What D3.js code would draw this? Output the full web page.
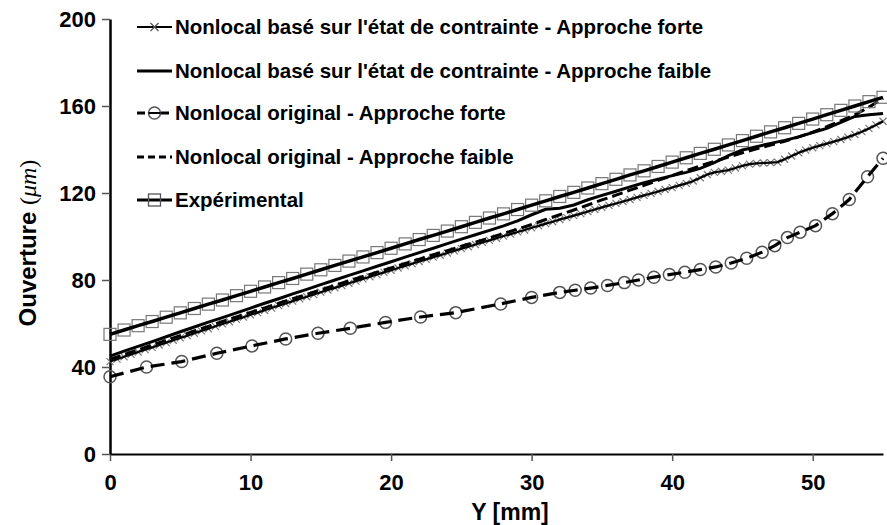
<!DOCTYPE html>
<html>
<head>
<meta charset="utf-8">
<script src="https://cdn.jsdelivr.net/npm/d3@7"></script>
<style>
  html, body { margin: 0; padding: 0; background: #fff; }
  svg { display: block; }
</style>
</head>
<body>
<svg id="chart" width="887" height="525"></svg>
<script>
// Crack opening along the ligament: experiment vs. nonlocal models
const xTicks = [0, 10, 20, 30, 40, 50];
const yTicks = [0, 40, 80, 120, 160, 200];

// Experimental measurements, one per millimetre (0..55 mm)
const expY = [
  55.0, 57.0, 59.0, 60.9, 62.9, 64.9, 66.9, 68.9, 70.8, 72.8,
  74.8, 76.8, 78.8, 80.7, 82.7, 84.7, 86.7, 88.7, 90.6, 92.6,
  94.6, 96.6, 98.6, 100.5, 102.5, 104.5, 106.5, 108.5, 110.4, 112.4,
  114.4, 116.4, 118.4, 120.3, 122.3, 124.3, 126.3, 128.3, 130.2, 132.2,
  134.2, 136.2, 138.2, 140.1, 142.1, 144.1, 146.1, 148.1, 150.0, 152.0,
  154.0, 156.0, 158.0, 160.0, 162.0, 164.0
];

// Stress-based nonlocal, weak approach (1 mm sampling)
const stressWeakY = [
  45.0, 47.3, 49.5, 51.7, 53.9, 56.2, 58.4, 60.6, 62.7, 64.9,
  67.1, 69.3, 71.4, 73.6, 75.7, 77.9, 80.0, 82.1, 84.2, 86.3,
  88.4, 90.5, 92.6, 94.6, 96.7, 98.8, 100.8, 102.8, 104.9, 107.2,
  110.0, 112.5, 113.0, 114.5, 116.9, 118.9, 120.8, 122.8, 124.7, 126.3,
  128.0, 129.5, 131.3, 134.0, 137.2, 139.8, 141.3, 142.8, 144.2, 145.8,
  147.8, 149.7, 152.5, 155.2, 156.0, 156.6
];

// Original nonlocal, weak approach (1 mm sampling)
const origWeakY = [
  43.5, 45.7, 47.9, 50.1, 52.3, 54.4, 56.6, 58.7, 60.9, 63.0,
  65.1, 67.2, 69.3, 71.4, 73.4, 75.5, 77.5, 79.6, 81.6, 83.6,
  85.6, 87.6, 89.6, 91.6, 93.5, 95.5, 97.4, 99.4, 101.4, 103.4,
  105.5, 107.8, 110.0, 112.2, 114.5, 116.8, 119.0, 121.3, 123.5, 125.8,
  128.0, 130.3, 132.5, 134.5, 136.5, 138.5, 140.3, 142.0, 143.8, 145.8,
  148.0, 150.5, 153.2, 156.0, 159.5, 163.5
];

// Stress-based nonlocal, strong approach (0.5 mm sampling)
const stressStrongY = [
  42.5, 43.6, 44.7, 45.8, 46.9, 48.0, 49.0, 50.1, 51.2, 52.3,
  53.4, 54.4, 55.5, 56.6, 57.6, 58.7, 59.8, 60.8, 61.9, 62.9,
  64.0, 65.0, 66.1, 67.1, 68.2, 69.2, 70.3, 71.3, 72.3, 73.3,
  74.4, 75.4, 76.4, 77.4, 78.5, 79.5, 80.5, 81.5, 82.5, 83.5,
  84.5, 85.5, 86.5, 87.5, 88.5, 89.5, 90.5, 91.4, 92.4, 93.4,
  94.4, 95.3, 96.3, 97.3, 98.2, 99.2, 100.2, 101.1, 102.1, 103.0,
  104.0, 104.9, 105.9, 106.8, 107.8, 108.7, 109.6, 110.5, 111.5, 112.4,
  113.4, 114.3, 115.2, 116.1, 117.0, 118.0, 118.9, 119.8, 120.7, 121.6,
  122.5, 123.5, 124.4, 125.5, 127.0, 128.5, 129.5, 130.0, 130.5, 131.5,
  132.5, 133.3, 133.6, 133.8, 134.0, 134.2, 135.5, 137.0, 138.5, 139.7,
  140.8, 141.8, 142.7, 143.6, 144.6, 145.7, 146.9, 148.2, 149.7, 151.3,
  153.0
];

// Original nonlocal, strong approach (nodes at uneven positions)
const origStrongX = [
  0, 2.6, 5.1, 7.6, 10.1, 12.5, 14.8, 17.1, 19.6, 22.1, 24.6, 27.8, 30,
  32, 33.1, 34.2, 35.4, 36.6, 37.6, 38.7, 39.8, 40.9, 42, 43.1, 44.2,
  45.3, 46.4, 47.3, 48.2, 49.1, 50.2, 51.4, 52.6, 53.9, 55
];
const origStrongY = [
  35.5, 40.0, 42.5, 46.3, 49.7, 52.9, 55.5, 57.8, 60.5, 63.0, 65.0, 69.0, 72.0,
  74.3, 75.3, 76.3, 77.5, 78.8, 80.0, 81.3, 82.5, 83.6, 84.8, 86.0, 87.8,
  90.0, 92.8, 95.8, 99.5, 102.0, 105.0, 110.5, 117.0, 127.5, 136.0
];

const legendLabels = [
  "Nonlocal basé sur l'état de contrainte - Approche forte",
  "Nonlocal basé sur l'état de contrainte - Approche faible",
  "Nonlocal original - Approche forte",
  "Nonlocal original - Approche faible",
  "Expérimental"
];

const mmGrid = d3.range(0, 56, 1);
const halfMmGrid = d3.range(0, 55.01, 0.5);

const svg = d3.select("#chart");
const x = d3.scaleLinear().domain([0, 55]).range([110, 883]);
const y = d3.scaleLinear().domain([0, 200]).range([454, 19]);

const sans = "'Liberation Sans', Arial, Helvetica, sans-serif";

// Axes
const xAxis = svg.append("g").attr("transform", `translate(0,${y(0)})`)
  .call(d3.axisBottom(x).tickValues(xTicks).tickSize(7).tickPadding(13).tickSizeOuter(0));
const yAxis = svg.append("g").attr("transform", `translate(${x(0)},0)`)
  .call(d3.axisLeft(y).tickValues(yTicks).tickSize(8).tickPadding(6).tickSizeOuter(0));

xAxis.select(".domain").attr("stroke", "#000").attr("stroke-width", 2);
yAxis.select(".domain").attr("stroke", "#000").attr("stroke-width", 2.5);
svg.selectAll(".tick line").attr("stroke", "#555").attr("stroke-width", 1.5);
svg.selectAll(".tick text")
  .attr("font-family", sans).attr("font-weight", "bold")
  .attr("font-size", 22).attr("fill", "#000");
xAxis.selectAll(".tick text").attr("dy", "0.71em");
yAxis.selectAll(".tick text").attr("dy", "0.36em");

// Axis titles
svg.append("text")
  .attr("x", 510).attr("y", 520)
  .attr("text-anchor", "middle")
  .attr("font-family", sans).attr("font-weight", "bold").attr("font-size", 23)
  .text("Y [mm]");

const yTitle = svg.append("text")
  .attr("transform", `translate(36,${y(97)}) rotate(-90)`)
  .attr("text-anchor", "middle")
  .attr("font-size", 24);
yTitle.append("tspan").attr("font-family", sans).attr("font-weight", "bold").text("Ouverture ");
yTitle.append("tspan").attr("font-family", "'Liberation Serif', 'DejaVu Serif', serif").text("(");
yTitle.append("tspan").attr("font-family", "'Liberation Serif', 'DejaVu Serif', serif").attr("font-style", "italic").text("μm");
yTitle.append("tspan").attr("font-family", "'Liberation Serif', 'DejaVu Serif', serif").text(")");

const line = d3.line().x(d => x(d[0])).y(d => y(d[1]));
const pairs = (xs, ys) => xs.map((v, i) => [v, ys[i]]);

const dStressStrong = pairs(halfMmGrid, stressStrongY);
const dStressWeak = pairs(mmGrid, stressWeakY);
const dOrigStrong = pairs(origStrongX, origStrongY);
const dOrigWeak = pairs(mmGrid, origWeakY);
const dExp = pairs(mmGrid, expY);

const plot = svg.append("g");

// Markers
function crossMarks(g, data, s) {
  g.selectAll(null).data(data).join("path")
    .attr("d", d => {
      const cx = x(d[0]), cy = y(d[1]);
      return `M${cx - s},${cy - s}L${cx + s},${cy + s}M${cx - s},${cy + s}L${cx + s},${cy - s}`;
    })
    .attr("stroke", "#777").attr("stroke-width", 1.2).attr("fill", "none");
}
function circleMarks(g, data, r) {
  g.selectAll(null).data(data).join("circle")
    .attr("cx", d => x(d[0])).attr("cy", d => y(d[1])).attr("r", r)
    .attr("fill", "none").attr("stroke", "#555").attr("stroke-width", 1.5);
}
function squareMarks(g, data, s) {
  g.selectAll(null).data(data).join("rect")
    .attr("x", d => x(d[0]) - s).attr("y", d => y(d[1]) - s)
    .attr("width", 2 * s).attr("height", 2 * s)
    .attr("fill", "none").attr("stroke", "#777").attr("stroke-width", 1.2);
}

// Original strong approach: dashed with circles
circleMarks(plot.append("g"), dOrigStrong, 6);
plot.append("path").datum(dOrigStrong).attr("d", line)
  .attr("fill", "none").attr("stroke", "#000").attr("stroke-width", 3.2)
  .attr("stroke-dasharray", "14,7");

// Stress-based strong approach: line with crosses
crossMarks(plot.append("g"), dStressStrong, 3.5);
plot.append("path").datum(dStressStrong).attr("d", line)
  .attr("fill", "none").attr("stroke", "#000").attr("stroke-width", 2.2);

// Original weak approach: dashed
plot.append("path").datum(dOrigWeak).attr("d", line)
  .attr("fill", "none").attr("stroke", "#000").attr("stroke-width", 3)
  .attr("stroke-dasharray", "11,5");

// Stress-based weak approach: solid
plot.append("path").datum(dStressWeak).attr("d", line)
  .attr("fill", "none").attr("stroke", "#000").attr("stroke-width", 3);

// Experimental: thick line with squares
squareMarks(plot.append("g"), dExp, 6);
plot.append("path").datum(dExp).attr("d", line)
  .attr("fill", "none").attr("stroke", "#000").attr("stroke-width", 3.5);

// Legend
const legend = svg.append("g");
const lx0 = 137, lx1 = 172, rowY = [27, 71, 113, 157, 200];
const legendStyles = [
  { w: 2, dash: null, mark: "cross" },
  { w: 3, dash: null, mark: null },
  { w: 3, dash: "8,4", mark: "circle" },
  { w: 3, dash: "7,4", mark: null },
  { w: 3, dash: null, mark: "square" }
];
legendLabels.forEach((lab, i) => {
  const cy = rowY[i], st = legendStyles[i];
  const g = legend.append("g");
  g.append("line").attr("x1", lx0).attr("x2", lx1).attr("y1", cy).attr("y2", cy)
    .attr("stroke", "#000").attr("stroke-width", st.w)
    .attr("stroke-dasharray", st.dash);
  const cx = (lx0 + lx1) / 2;
  if (st.mark === "cross") {
    g.append("path").attr("d", `M${cx - 4},${cy - 4}L${cx + 4},${cy + 4}M${cx - 4},${cy + 4}L${cx + 4},${cy - 4}`)
      .attr("stroke", "#555").attr("stroke-width", 1.3);
  } else if (st.mark === "circle") {
    g.append("circle").attr("cx", cx).attr("cy", cy).attr("r", 6)
      .attr("fill", "#fff").attr("stroke", "#555").attr("stroke-width", 1.5);
    g.append("line").attr("x1", cx - 6).attr("x2", cx + 6).attr("y1", cy).attr("y2", cy)
      .attr("stroke", "#000").attr("stroke-width", 2);
  } else if (st.mark === "square") {
    g.append("rect").attr("x", cx - 6).attr("y", cy - 6).attr("width", 12).attr("height", 12)
      .attr("fill", "none").attr("stroke", "#555").attr("stroke-width", 1.3);
  }
  g.append("text").attr("x", 175).attr("y", cy).attr("dy", "0.36em")
    .attr("font-family", sans).attr("font-weight", "bold").attr("font-size", 20.5)
    .text(lab);
});
</script>
</body>
</html>
